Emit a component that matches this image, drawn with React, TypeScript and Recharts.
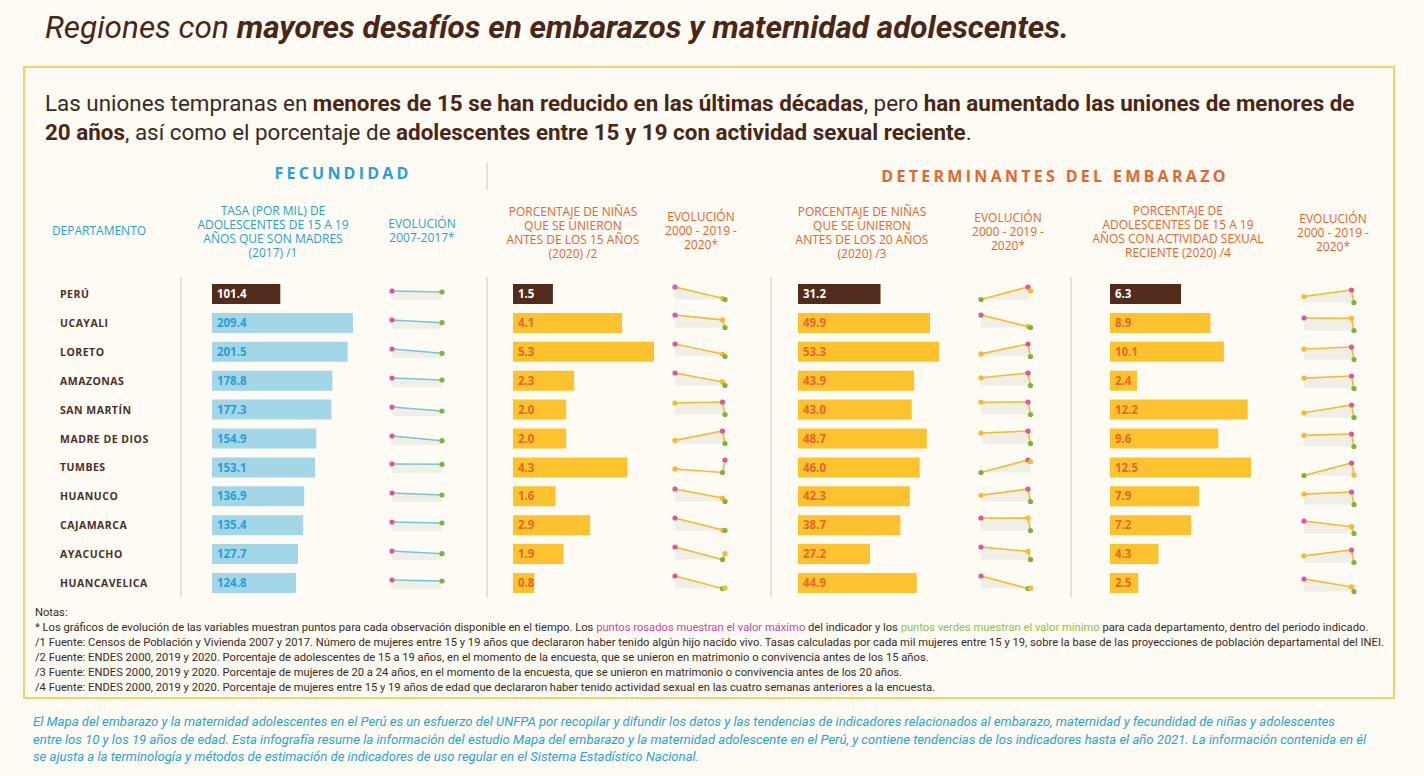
import React from 'react';
import { BarChart, Bar, XAxis, YAxis, Cell, LabelList, ComposedChart, Area, Line } from 'recharts';

// --- data ---
const departamentos = ['PERÚ', 'UCAYALI', 'LORETO', 'AMAZONAS', 'SAN MARTÍN', 'MADRE DE DIOS', 'TUMBES', 'HUANUCO', 'CAJAMARCA', 'AYACUCHO', 'HUANCAVELICA'];

const tasaMadres2017 = [101.4, 209.4, 201.5, 178.8, 177.3, 154.9, 153.1, 136.9, 135.4, 127.7, 124.8];
const tasaMadres2007 = [106.7, 242.1, 256.7, 198.7, 221.6, 202.5, 155.4, 152.1, 142.5, 147.6, 131.4];

const union15_2020 = [1.5, 4.1, 5.3, 2.3, 2.0, 2.0, 4.3, 1.6, 2.9, 1.9, 0.8];
const union15_2019 = [1.7, 7.1, 6.4, 3.4, 4.4, 5.2, 1.5, 2.7, 3.0, 1.2, 0.7];
const union15_2000 = [3.5, 9.0, 11.0, 6.2, 4.2, 2.8, 2.3, 5.6, 5.8, 2.7, 2.7];

const union20_2020 = [31.2, 49.9, 53.3, 43.9, 43.0, 48.7, 46.0, 42.3, 38.7, 27.2, 44.9];
const union20_2019 = [34.0, 50.5, 60.0, 52.0, 50.0, 56.0, 47.6, 50.0, 45.9, 32.9, 44.6];
const union20_2000 = [25.0, 58.0, 54.7, 48.9, 49.9, 54.8, 36.0, 46.1, 46.0, 36.0, 55.0];

const actividad2020 = [6.3, 8.9, 10.1, 2.4, 12.2, 9.6, 12.5, 7.9, 7.2, 4.3, 2.5];
const actividad2019 = [9.0, 12.9, 15.0, 6.0, 17.0, 14.0, 18.2, 11.5, 9.0, 7.5, 3.6];
const actividad2000 = [7.6, 13.0, 14.2, 5.4, 14.0, 13.5, 12.2, 10.9, 10.5, 6.0, 5.5];

const yearsFec = [2007, 2017];
const yearsDet = [2000, 2019, 2020];

// --- colours ---
const BG = '#fdfbf4';
const BROWN = '#512b1b';
const TITLE = '#4a2616';
const BLUE = '#2a9fd6';
const ORANGE = '#e8652d';
const LIGHTBLUE = '#a3d6e6';
const GOLD = '#fdc32e';
const TEAL = '#77c6d4';
const LINEGOLD = '#f7bb2e';
const PINK = '#e0569b';
const GREEN = '#7cb342';
const SHADE = '#efeee7';

const ROW0 = 294;
const ROWH = 28.9;
const rowY = (i: number) => ROW0 + ROWH * i;

const SANS = '"Open Sans", sans-serif';
const COND = 'Roboto, sans-serif';

const BarColumn = ({ values, left, color, textColor }: { values: number[]; left: number; color: string; textColor: string }) => {
    const data = departamentos.map((name, i) => ({ name, value: values[i] }));
    return (
        <div style={{ position: 'absolute', left, top: ROW0 - ROWH / 2 }}>
            <BarChart layout="vertical" width={141} height={ROWH * 11} data={data} margin={{ top: 0, right: 0, bottom: 0, left: 0 }}>
                <XAxis type="number" domain={[0, 'dataMax']} hide />
                <YAxis type="category" dataKey="name" hide />
                <Bar dataKey="value" barSize={20} isAnimationActive={false}>
                    {data.map((d, i) => (
                        <Cell key={`c-${i}`} fill={i === 0 ? BROWN : color} />
                    ))}
                    <LabelList
                        dataKey="value"
                        content={(p: any) => (
                            <text
                                x={p.x + 5}
                                y={p.y + p.height / 2}
                                dy="0.36em"
                                fill={p.index === 0 ? '#ffffff' : textColor}
                                fontFamily={SANS}
                                fontWeight={700}
                                fontSize={11.5}
                            >
                                {Number(p.value).toFixed(1)}
                            </text>
                        )}
                    />
                </Bar>
            </BarChart>
        </div>
    );
};

interface SparkProps {
    years: number[];
    values: number[];
    left: number;
    top: number;
    w: number;
    h: number;
    color: string;
    domain: [number, number];
    base: number | 'dataMin';
}

const Spark = ({ years, values, left, top, w, h, color, domain, base }: SparkProps) => {
    const pad = 4;
    const data = years.map((y, i) => ({ year: y, v: values[i] }));
    const max = Math.max(...values);
    const min = Math.min(...values);
    const dot = (p: any) => {
        const v = p.payload.v;
        const fill = v === max ? PINK : v === min ? GREEN : color;
        return <circle key={`d-${p.index}`} cx={p.cx} cy={p.cy} r={2.6} fill={fill} />;
    };
    return (
        <div style={{ position: 'absolute', left: left - pad, top: top - pad }}>
            <ComposedChart width={w + pad * 2} height={h + pad * 2} data={data} margin={{ top: pad, right: pad, bottom: pad, left: pad }}>
                <XAxis dataKey="year" type="number" domain={[years[0], years[years.length - 1]]} hide />
                <YAxis type="number" domain={domain} hide />
                <Area dataKey="v" stroke="none" fill={SHADE} fillOpacity={1} baseValue={base} isAnimationActive={false} />
                <Line dataKey="v" stroke={color} strokeWidth={1.6} dot={dot} activeDot={false} isAnimationActive={false} />
            </ComposedChart>
        </div>
    );
};

const SparkFec = ({ i }: { i: number }) => {
    const v07 = tasaMadres2007[i];
    return (
        <Spark
            years={yearsFec}
            values={[tasaMadres2007[i], tasaMadres2017[i]]}
            left={392}
            top={rowY(i) - 3}
            w={50}
            h={20}
            color={TEAL}
            domain={[0, v07]}
            base={v07 * 0.55}
        />
    );
};

const SparkDet = ({ vals, left, w, off }: { vals: number[]; left: number; w: number; off: number }) => {
    return <Spark years={yearsDet} values={vals} left={left} top={off} w={w} h={12.5} color={LINEGOLD} domain={[Math.min(...vals), Math.max(...vals)]} base="dataMin" />;
};

const Header = ({ cx, top, lines, color }: { cx: number; top: number; lines: string[]; color: string }) => (
    <div
        style={{
            position: 'absolute',
            left: cx - 130,
            width: 260,
            top: top - 7,
            textAlign: 'center',
            fontFamily: SANS,
            fontSize: 12,
            lineHeight: '14px',
            color,
        }}
    >
        {lines.map((l, k) => (
            <div key={k}>{l}</div>
        ))}
    </div>
);

const VLine = ({ x, y1, y2 }: { x: number; y1: number; y2: number }) => (
    <div style={{ position: 'absolute', left: x - 1, top: y1, width: 2, height: y2 - y1, background: '#e4e1da' }} />
);

export default function App() {
    const b = { fontWeight: 700 } as const;
    return (
        <div style={{ position: 'absolute', left: 0, top: 0, width: 1424, height: 776, background: BG, overflow: 'hidden', fontFamily: COND }}>
            {/* title */}
            <div style={{ position: 'absolute', left: 45, top: 8, fontSize: 31.5, lineHeight: '40px', fontStyle: 'italic', color: TITLE, whiteSpace: 'nowrap' }}>
                Regiones con <span style={b}>mayores desafíos en embarazos y maternidad adolescentes.</span>
            </div>

            {/* box */}
            <div style={{ position: 'absolute', left: 23, top: 66, width: 1368, height: 629, border: '2px solid #f6d163' }} />

            {/* subtitle */}
            <div style={{ position: 'absolute', left: 45, top: 89, fontSize: 22.4, lineHeight: '28.5px', color: '#3b2a22', whiteSpace: 'nowrap' }}>
                <div>
                    Las uniones tempranas en <span style={{ ...b, color: TITLE }}>menores de 15 se han reducido en las últimas décadas</span>, pero{' '}
                    <span style={{ ...b, color: TITLE }}>han aumentado las uniones de menores de</span>
                </div>
                <div>
                    <span style={{ ...b, color: TITLE }}>20 años</span>, así como el porcentaje de{' '}
                    <span style={{ ...b, color: TITLE }}>adolescentes entre 15 y 19 con actividad sexual reciente</span>.
                </div>
            </div>

            {/* section titles */}
            <div style={{ position: 'absolute', left: 193, width: 300, top: 162, textAlign: 'center', fontFamily: SANS, fontWeight: 700, fontSize: 16, letterSpacing: 3.2, color: BLUE, lineHeight: '22px' }}>
                FECUNDIDAD
            </div>
            <VLine x={487} y1={163} y2={190} />
            <div style={{ position: 'absolute', left: 855, width: 400, top: 165, textAlign: 'center', fontFamily: SANS, fontWeight: 700, fontSize: 16, letterSpacing: 3.3, color: ORANGE, lineHeight: '22px' }}>
                DETERMINANTES DEL EMBARAZO
            </div>

            {/* column headers */}
            <Header cx={99} top={231} lines={['DEPARTAMENTO']} color={BLUE} />
            <Header cx={273} top={211} lines={['TASA (POR MIL) DE', 'ADOLESCENTES DE 15 A 19', 'AÑOS QUE SON MADRES', '(2017) /1']} color={BLUE} />
            <Header cx={422} top={224} lines={['EVOLUCIÓN', '2007-2017*']} color={BLUE} />
            <Header cx={573} top={212} lines={['PORCENTAJE DE NIÑAS', 'QUE SE UNIERON', 'ANTES DE LOS 15 AÑOS', '(2020) /2']} color={ORANGE} />
            <Header cx={701} top={217} lines={['EVOLUCIÓN', '2000 - 2019 -', '2020*']} color={ORANGE} />
            <Header cx={862} top={212} lines={['PORCENTAJE DE NIÑAS', 'QUE SE UNIERON', 'ANTES DE LOS 20 AÑOS', '(2020) /3']} color={ORANGE} />
            <Header cx={1008} top={218} lines={['EVOLUCIÓN', '2000 - 2019 -', '2020*']} color={ORANGE} />
            <Header cx={1178} top={211} lines={['PORCENTAJE DE', 'ADOLESCENTES DE 15 A 19', 'AÑOS CON ACTIVIDAD SEXUAL', 'RECIENTE (2020) /4']} color={ORANGE} />
            <Header cx={1333} top={219} lines={['EVOLUCIÓN', '2000 - 2019 -', '2020*']} color={ORANGE} />

            {/* column separators */}
            <VLine x={181} y1={277} y2={597} />
            <VLine x={487} y1={277} y2={597} />
            <VLine x={771} y1={277} y2={597} />
            <VLine x={1071} y1={277} y2={597} />

            {/* department names */}
            {departamentos.map((d, i) => (
                <div
                    key={d}
                    style={{
                        position: 'absolute',
                        left: 60,
                        top: rowY(i) - 8,
                        lineHeight: '16px',
                        fontFamily: SANS,
                        fontWeight: 700,
                        fontSize: 10.5,
                        letterSpacing: 0.5,
                        color: '#4a3128',
                        whiteSpace: 'nowrap',
                    }}
                >
                    {d}
                </div>
            ))}

            {/* bars */}
            <BarColumn values={tasaMadres2017} left={212} color={LIGHTBLUE} textColor={BLUE} />
            <BarColumn values={union15_2020} left={513} color={GOLD} textColor={ORANGE} />
            <BarColumn values={union20_2020} left={798} color={GOLD} textColor={ORANGE} />
            <BarColumn values={actividad2020} left={1110} color={GOLD} textColor={ORANGE} />

            {/* evolution sparklines */}
            {departamentos.map((d, i) => (
                <React.Fragment key={`s-${i}`}>
                    <SparkFec i={i} />
                    <SparkDet vals={[union15_2000[i], union15_2019[i], union15_2020[i]]} left={675} w={50} off={rowY(i) - 7.5} />
                    <SparkDet vals={[union20_2000[i], union20_2019[i], union20_2020[i]]} left={980.5} w={49.5} off={rowY(i) - 7.5} />
                    <SparkDet vals={[actividad2000[i], actividad2019[i], actividad2020[i]]} left={1303.5} w={50} off={rowY(i) - 4.5} />
                </React.Fragment>
            ))}

            {/* notes */}
            <div style={{ position: 'absolute', left: 35, top: 604.5, fontSize: 11.2, lineHeight: '15px', color: '#3b2a22', whiteSpace: 'nowrap' }}>
                <div>Notas:</div>
                <div>
                    * Los gráficos de evolución de las variables muestran puntos para cada observación disponible en el tiempo. Los{' '}
                    <span style={{ color: '#d6459a' }}>puntos rosados muestran el valor máximo</span> del indicador y los{' '}
                    <span style={{ color: '#8cc63f' }}>puntos verdes muestran el valor mínimo</span> para cada departamento, dentro del periodo indicado.
                </div>
                <div>/1 Fuente: Censos de Población y Vivienda 2007 y 2017. Número de mujeres entre 15 y 19 años que declararon haber tenido algún hijo nacido vivo. Tasas calculadas por cada mil mujeres entre 15 y 19, sobre la base de las proyecciones de población departamental del INEI.</div>
                <div>/2 Fuente: ENDES 2000, 2019 y 2020. Porcentaje de adolescentes de 15 a 19 años, en el momento de la encuesta, que se unieron en matrimonio o convivencia antes de los 15 años.</div>
                <div>/3 Fuente: ENDES 2000, 2019 y 2020. Porcentaje de mujeres de 20 a 24 años, en el momento de la encuesta, que se unieron en matrimonio o convivencia antes de los 20 años.</div>
                <div>/4 Fuente: ENDES 2000, 2019 y 2020. Porcentaje de mujeres entre 15 y 19 años de edad que declararon haber tenido actividad sexual en las cuatro semanas anteriores a la encuesta.</div>
            </div>

            {/* footer */}
            <div style={{ position: 'absolute', left: 33, top: 713, fontSize: 13.1, lineHeight: '17.5px', fontStyle: 'italic', color: '#2aa3d9', whiteSpace: 'nowrap' }}>
                <div>El Mapa del embarazo y la maternidad adolescentes en el Perú es un esfuerzo del UNFPA por recopilar y difundir los datos y las tendencias de indicadores relacionados al embarazo, maternidad y fecundidad de niñas y adolescentes</div>
                <div>entre los 10 y los 19 años de edad. Esta infografía resume la información del estudio Mapa del embarazo y la maternidad adolescente en el Perú, y contiene tendencias de los indicadores hasta el año 2021. La información contenida en él</div>
                <div>se ajusta a la terminología y métodos de estimación de indicadores de uso regular en el Sistema Estadístico Nacional.</div>
            </div>
        </div>
    );
}
